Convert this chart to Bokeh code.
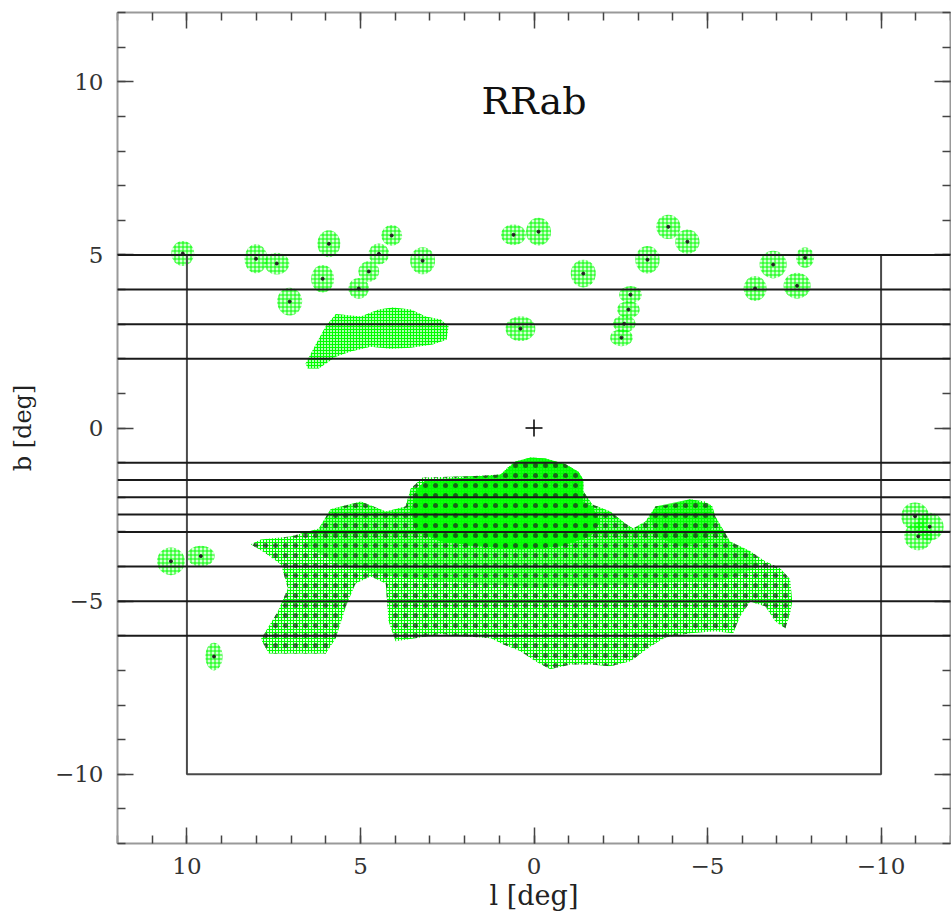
import numpy as np
from bokeh.plotting import figure
from bokeh.models import Range1d, LinearAxis, SingleIntervalTicker, Span
from bokeh.core.properties import value
from bokeh.embed import file_html
from bokeh.resources import INLINE

# ---------------- data ----------------
# horizontal strip boundaries, b [deg]
strip_b = [5, 4, 3, 2, -1, -1.5, -2, -2.5, -3, -4, -5, -6]
# survey box corners (l, b)
box_l = [10, 10, -10, -10]
box_b = [5, -10, -10, 5]
# galactic centre marker
centre_l = [0.0]
centre_b = [0.0]

# outline of the main (southern) bulge region
bulge_l = [0.96, 0.76, 0.53, 0.10, -0.33, -0.91, -1.28, -1.42, -1.42, -1.68, -2.20, -2.63, -2.86,
           -3.21, -3.50, -3.93, -4.50, -4.93, -5.14, -5.22, -5.65, -6.23, -6.66, -7.09, -7.38,
           -7.44, -7.38, -7.24, -6.95, -6.66, -6.23, -5.94, -5.74, -5.22, -4.50, -3.78, -3.35,
           -2.78, -2.20, -1.63, -1.05, -0.47, -0.04, 0.39, 0.88, 1.25, 2.12, 2.69, 3.41, 3.99,
           4.19, 4.27, 4.71, 5.14, 5.42, 5.71, 6.00, 6.72, 7.64, 7.87, 7.38, 7.09, 7.29, 7.73,
           8.16, 7.87, 7.01, 6.20, 5.86, 4.99, 4.27, 3.70, 3.55, 3.21, 1.83]
bulge_b = [-1.34, -1.14, -0.97, -0.85, -0.88, -1.05, -1.26, -1.49, -1.83, -2.21, -2.41, -2.76, -2.90,
           -2.70, -2.27, -2.21, -2.06, -2.12, -2.27, -2.55, -3.28, -3.56, -3.85, -4.05, -4.37,
           -5.01, -5.36, -5.79, -5.58, -5.15, -5.01, -5.44, -5.93, -5.87, -5.93, -6.05, -6.31,
           -6.74, -6.88, -6.83, -6.83, -6.97, -6.74, -6.45, -6.25, -6.07, -6.01, -5.95, -6.07, -6.16,
           -5.58, -4.49, -4.29, -4.49, -5.15, -6.07, -6.51, -6.51, -6.51, -6.10, -5.30, -4.63, -3.94, -3.62,
           -3.36, -3.22, -3.13, -2.90, -2.35, -2.12, -2.41, -2.27, -1.75, -1.43, -1.39]

# moderately dense upper half of the bulge region
mid_l = [6.20, 5.86, 4.99, 4.27, 3.70, 3.55, 1.83, -1.42, -1.68, -2.20, -2.63, -2.86, -3.21, -3.50,
         -4.50, -5.14, -5.22, -5.65, -6.23, -6.50, -5.50, -3.00, 0.00, 3.00, 4.20, 5.50, 6.60]
mid_b = [-2.90, -2.35, -2.12, -2.41, -2.27, -1.75, -1.39, -1.83, -2.21, -2.41, -2.76, -2.90, -2.70, -2.27,
         -2.06, -2.27, -2.55, -3.28, -3.56, -4.00, -4.40, -4.50, -4.60, -4.40, -4.25, -4.00, -3.40]

# densest part of the bulge region
core_l = [0.96, 0.53, 0.10, -0.33, -0.91, -1.28, -1.42, -1.42, -1.68, -1.91, -1.63, -0.76, 0.39,
          1.54, 2.69, 3.41, 3.55, 3.41, 3.12, 1.83]
core_b = [-1.34, -0.97, -0.85, -0.88, -1.05, -1.26, -1.49, -2.12, -2.27, -2.70, -3.13, -3.42, -3.51,
          -3.42, -3.28, -2.99, -2.41, -1.83, -1.49, -1.43]
lobe_l = [-3.50, -4.50, -5.08, -5.22, -4.94, -4.22, -3.50, -3.35]
lobe_b = [-2.27, -2.06, -2.21, -2.70, -3.28, -3.42, -3.13, -2.55]

# northern band of fields
band_l = [6.58, 6.29, 6.00, 5.71, 4.99, 4.48, 4.07, 3.55, 3.12, 2.69, 2.46, 2.52, 2.92, 3.55, 4.13,
          4.71, 5.28, 5.71, 6.20, 6.52]
band_b = [1.86, 2.41, 2.94, 3.29, 3.22, 3.42, 3.48, 3.42, 3.22, 3.13, 2.93, 2.55, 2.41, 2.32, 2.29,
          2.35, 2.21, 2.06, 1.72, 1.72]

# small isolated fields: centre l, b and extent (deg)
clump_l = [10.12, 8.01, 7.41, 7.04, 5.91, 6.09, 5.05, 4.76, 4.47, 4.10, 3.21, 0.59, -0.13, -1.42,
           -3.27, -3.87, -4.42, -2.78, -2.72, -2.60, -2.52, -6.37, -6.89, -7.81, -7.58, 0.39,
           10.46, 9.60, 9.22, -10.98, -11.40, -11.07]
clump_b = [5.04, 4.89, 4.75, 3.65, 5.32, 4.31, 4.03, 4.52, 5.03, 5.56, 4.83, 5.58, 5.67, 4.46,
           4.86, 5.81, 5.38, 3.85, 3.42, 3.01, 2.61, 4.03, 4.72, 4.92, 4.11, 2.87,
           -3.85, -3.70, -6.60, -2.55, -2.85, -3.13]
clump_w = [0.66, 0.66, 0.72, 0.72, 0.66, 0.66, 0.6, 0.6, 0.6, 0.6, 0.72, 0.72, 0.72, 0.72,
           0.7, 0.7, 0.7, 0.65, 0.65, 0.65, 0.65, 0.66, 0.78, 0.52, 0.78, 0.86,
           0.8, 0.8, 0.5, 0.8, 0.8, 0.8]
clump_h = [0.72, 0.84, 0.63, 0.8, 0.78, 0.8, 0.6, 0.6, 0.6, 0.6, 0.78, 0.6, 0.8, 0.8,
           0.8, 0.7, 0.7, 0.5, 0.5, 0.5, 0.5, 0.72, 0.8, 0.6, 0.75, 0.72,
           0.8, 0.6, 0.8, 0.8, 0.8, 0.8]

title_text = "RRab"
x_title = "l [deg]"
y_title = "b [deg]"
tick_major = 5

# ---------------- figure ----------------
GREEN = "#00ff00"
FONT = "DejaVu Serif"

p = figure(width=951, height=922, output_backend="svg", toolbar_location=None,
           x_range=Range1d(12, -12), y_range=Range1d(-12, 12),
           min_border_left=117, min_border_right=1, min_border_top=12, min_border_bottom=79,
           x_axis_location=None, y_axis_location=None)
p.grid.visible = False
p.outline_line_color = None
p.background_fill_color = "white"

# speckle of stars
p.patch(bulge_l, bulge_b, fill_color=GREEN, fill_alpha=0.12, line_color=None,
        hatch_pattern="cross", hatch_color=GREEN, hatch_scale=3, hatch_weight=1)
p.patch(band_l, band_b, fill_color=GREEN, fill_alpha=0.3, line_color=None,
        hatch_pattern="cross", hatch_color=GREEN, hatch_scale=3, hatch_weight=1)
p.ellipse(clump_l, clump_b, width=clump_w, height=clump_h, fill_color=GREEN, fill_alpha=0.15,
          line_color=None, hatch_pattern="cross", hatch_color=GREEN, hatch_scale=4, hatch_weight=1)
# denser parts
p.patch(mid_l, mid_b, fill_color=GREEN, fill_alpha=0.4, line_color=None)
p.patch(core_l, core_b, fill_color=GREEN, fill_alpha=0.9, line_color=None)
p.patch(lobe_l, lobe_b, fill_color=GREEN, fill_alpha=0.6, line_color=None)
# black points
p.patch(bulge_l, bulge_b, fill_color=None, line_color=None,
        hatch_pattern="dot", hatch_color="#222222", hatch_alpha=0.7, hatch_scale=10, hatch_weight=0.1)
p.scatter(clump_l, clump_b, size=3, color="#222222")

# strip lines and box
for b in strip_b:
    p.add_layout(Span(location=b, dimension="width", line_color="#1a1a1a", line_width=2))
p.line(box_l, box_b, line_color="#4a4a4a", line_width=2)
p.scatter(centre_l, centre_b, marker="cross", size=17, line_color="black", line_width=1.5)

p.text(x=[0], y=[9.45], text=[title_text], text_font=value(FONT), text_font_size="38px",
       text_align="center", text_baseline="middle", text_color="#111111")

# axes with inward ticks on all four sides
def make_axis(show_labels):
    ax = LinearAxis(ticker=SingleIntervalTicker(interval=tick_major, num_minor_ticks=5))
    ax.major_tick_in = 16
    ax.major_tick_out = 0
    ax.minor_tick_in = 8
    ax.minor_tick_out = 0
    ax.axis_line_color = "#999999"
    ax.axis_line_width = 2
    ax.major_tick_line_color = "#444444"
    ax.major_tick_line_width = 1.5
    ax.minor_tick_line_color = "#444444"
    ax.minor_tick_line_width = 1.5
    if show_labels:
        ax.major_label_text_font = FONT
        ax.major_label_text_font_size = "23px"
        ax.major_label_text_color = "#333333"
        ax.major_label_standoff = 14
        ax.axis_label_text_font = FONT
        ax.axis_label_text_font_style = "normal"
        ax.axis_label_text_color = "#222222"
    else:
        ax.major_label_text_font_size = "1px"
        ax.major_label_text_color = None
        ax.major_label_standoff = 0
    return ax

yax = make_axis(True)
yax.axis_label = y_title
yax.axis_label_text_font_size = "24px"
yax.axis_label_standoff = 15
xax = make_axis(True)
xax.axis_label = x_title
xax.axis_label_text_font_size = "27px"
xax.axis_label_standoff = 3
p.add_layout(yax, "left")
p.add_layout(xax, "below")
p.add_layout(make_axis(False), "above")
p.add_layout(make_axis(False), "right")

open("out.html", "w").write(file_html(p, INLINE))
